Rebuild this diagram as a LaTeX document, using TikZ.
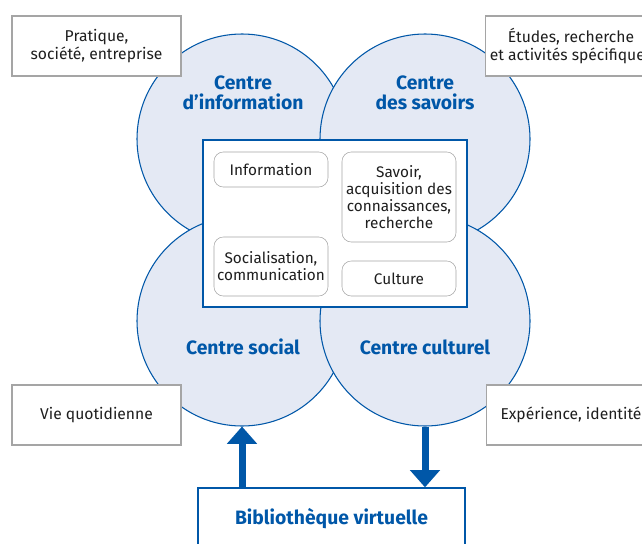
\documentclass[tikz,border=0pt]{standalone}
\usepackage{fontspec}
\setmainfont{Fira Sans}
\usepackage{tikz}
\usetikzlibrary{arrows.meta}
\definecolor{color1}{HTML}{0057A8}
\definecolor{color2}{HTML}{E4E9F4}
\definecolor{color3}{HTML}{A5A5A5}
\definecolor{color4}{HTML}{1E1E1E}

\begin{document}
\begin{tikzpicture}[x=0.75pt, y=-0.75pt,
	centre/.style={circle, draw=color1, fill=color2, line width=0.8pt,
		minimum size=157.5pt, inner sep=0pt},
	centrelbl/.style={text=color1, align=center,
		font=\fontsize{14.5}{15}\selectfont\bfseries},
	side/.style={draw=color3, fill=white, line width=0.8pt, text=color4,
		minimum width=126.75pt, minimum height=45pt, align=center,
		font=\fontsize{11.75}{14}\selectfont},
	theme/.style={draw=color3, fill=white, rounded corners=7pt, text=color4,
		minimum width=85.5pt, inner sep=0pt, align=center,
		font=\fontsize{11.5}{12.75}\selectfont},
	flow/.style={line width=5.25pt, color=color1,
		-{Triangle[width=22pt, length=13pt]}}]
	\useasboundingbox (0,0) rectangle (642,543);
	\clip (0,0) rectangle (642,543);

	% the four centres, drawn in this order so the arcs overlap right
	\node[centre] (cinfo)     at (242,139) {};
	\node[centre] (csavoirs)  at (425,139) {};
	\node[centre] (csocial)   at (242,321) {};
	\node[centre] (cculturel) at (425,321) {};

	% middle box with the four themes
	\node[draw=color1, fill=white, line width=1pt,
		minimum width=198pt, minimum height=125.25pt] (hub) at (335,223.5) {};
	\node[theme, minimum height=26.25pt] (information) at (271,169.5) {Information};
	\node[theme, minimum height=67.5pt] (savoir) at (399,197)
		{Savoir,\\acquisition des\\connaissances,\\recherche};
	\node[theme, minimum height=44.25pt] (socialisation) at (271,266.5)
		{Socialisation,\\communication};
	\node[theme, minimum height=26.25pt] (culture) at (399,278.5) {Culture};

	\node[centrelbl] (lblinfo)     at (243,93)  {Centre\\d’information};
	\node[centrelbl] (lblsavoirs)  at (425,93)  {Centre\\des savoirs};
	\node[centrelbl] (lblsocial)   at (243,347) {Centre social};
	\node[centrelbl] (lblculturel) at (425,347) {Centre culturel};

	% outside fields
	\node[side] (pratique)   at (96.5,46)  {Pratique,\\société, entreprise};
	\node[side] (etudes)     at (571,46)   {Études, recherche\\et activités spécifiques};
	\node[side] (quotidien)  at (96.5,415) {Vie quotidienne};
	\node[side] (experience) at (571,415)  {Expérience, identité};

	% virtual library and its two flows
	\node[draw=color1, fill=white, line width=1pt, text=color1,
		minimum width=200.25pt, minimum height=46.5pt,
		font=\fontsize{14.5}{15}\selectfont\bfseries] (virt) at (331.5,519)
		{Bibliothèque virtuelle};
	\draw[flow] (csocial.south |- virt.north) -- (csocial.south);
	\draw[flow] (cculturel.south) -- (cculturel.south |- virt.north);
\end{tikzpicture}
\end{document}
